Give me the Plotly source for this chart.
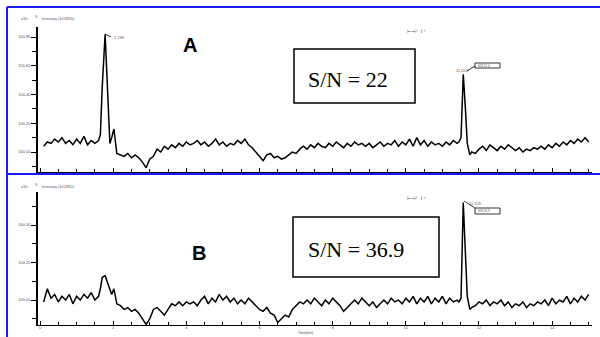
import plotly.graph_objects as go

# ---------------- data ----------------
time_min = (
    [0.1, 0.2, 0.3, 0.4, 0.5, 0.6, 0.7, 0.8, 0.9, 1.0, 1.1, 1.2, 1.3, 1.4, 1.5, 1.6]
    + [1.65, 1.7, 1.78, 1.85, 1.91, 1.96, 2.02, 2.1]
    + [2.2, 2.3, 2.4, 2.5, 2.6, 2.7, 2.8, 2.9, 3.0, 3.1,
       3.2, 3.3, 3.4, 3.5, 3.6, 3.7, 3.8, 3.9, 4.0, 4.1,
       4.2, 4.3, 4.4, 4.5, 4.6, 4.7, 4.8, 4.9, 5.0, 5.1,
       5.2, 5.3, 5.4, 5.5, 5.6, 5.7, 5.8, 5.9, 6.0, 6.1,
       6.2, 6.3, 6.4, 6.5, 6.6, 6.7, 6.8, 6.9, 7.0, 7.1,
       7.2, 7.3, 7.4, 7.5, 7.6, 7.7, 7.8, 7.9, 8.0, 8.1,
       8.2, 8.3, 8.4, 8.5, 8.6, 8.7, 8.8, 8.9, 9.0, 9.1,
       9.2, 9.3, 9.4, 9.5, 9.6, 9.7, 9.8, 9.9, 10.0, 10.1,
       10.2, 10.3, 10.4, 10.5, 10.6, 10.7, 10.8, 10.9, 11.0, 11.1,
       11.2, 11.3, 11.4]
    + [11.45, 11.51, 11.57, 11.63, 11.68, 11.75]
    + [11.8, 11.9, 12.0, 12.1, 12.2, 12.3, 12.4, 12.5, 12.6, 12.7,
       12.8, 12.9, 13.0, 13.1, 13.2, 13.3, 13.4, 13.5, 13.6, 13.7,
       13.8, 13.9, 14.0, 14.1, 14.2, 14.3, 14.4, 14.5, 14.6, 14.7,
       14.8, 14.9, 15.0]
)

intensity_a = (
    [100.04, 100.07, 100.06, 100.09, 100.07, 100.10, 100.06, 100.08, 100.05, 100.09,
     100.06, 100.11, 100.05, 100.08, 100.06, 100.08]
    + [100.12, 100.45, 100.82, 100.45, 100.06, 100.10, 100.16, 99.99]
    + [99.98, 99.97, 99.99, 99.96, 99.98, 99.96, 99.93, 99.89, 99.95, 99.97,
       100.02, 100.00, 100.04, 100.02, 100.05, 100.03, 100.06, 100.04, 100.07, 100.05,
       100.06, 100.08, 100.05, 100.07, 100.04, 100.06, 100.09, 100.05, 100.07, 100.04,
       100.06, 100.05, 100.08, 100.06, 100.09, 100.05, 100.03, 100.00, 99.97, 99.94,
       99.98, 99.99, 99.96, 99.97, 99.95, 99.96, 99.98, 100.00, 99.99, 100.02,
       100.04, 100.02, 100.05, 100.03, 100.06, 100.04, 100.03, 100.06, 100.04, 100.07,
       100.05, 100.03, 100.06, 100.04, 100.07, 100.05, 100.06, 100.04, 100.06, 100.03,
       100.05, 100.07, 100.04, 100.06, 100.05, 100.08, 100.04, 100.07, 100.05, 100.09,
       100.04, 100.10, 100.05, 100.08, 100.04, 100.07, 100.05, 100.06, 100.04, 100.07,
       100.05, 100.08, 100.06]
    + [100.07, 100.10, 100.54, 100.30, 100.06, 99.98]
    + [100.00, 99.99, 100.02, 100.04, 100.01, 100.05, 100.03, 100.01, 100.04, 100.02,
       100.05, 100.03, 100.01, 100.03, 100.00, 100.02, 100.01, 100.03, 100.02, 100.04,
       100.02, 100.05, 100.03, 100.06, 100.04, 100.07, 100.05, 100.08, 100.06, 100.09,
       100.07, 100.10, 100.07]
)

intensity_b = (
    [99.99, 100.06, 100.01, 100.03, 99.99, 100.02, 100.00, 100.03, 99.98, 100.02,
     100.00, 100.03, 100.01, 100.04, 100.00, 100.02]
    + [100.06, 100.12, 100.13, 100.09, 100.05, 100.03, 100.06, 99.98]
    + [99.97, 99.95, 99.96, 99.94, 99.95, 99.93, 99.90, 99.87, 99.90, 99.95,
       99.96, 99.94, 99.92, 99.95, 99.98, 99.97, 99.99, 99.97, 99.99, 99.98,
       99.99, 99.97, 100.00, 100.02, 99.98, 100.01, 99.99, 100.03, 100.00, 100.02,
       99.99, 100.01, 99.98, 100.00, 99.98, 100.01, 99.99, 99.97, 99.95, 99.94,
       99.96, 99.93, 99.92, 99.88, 99.90, 99.92, 99.91, 99.95, 99.97, 99.99,
       99.98, 100.00, 99.98, 100.01, 99.99, 99.97, 100.00, 99.98, 100.01, 99.99,
       99.97, 99.94, 99.96, 99.98, 100.00, 99.98, 100.01, 99.99, 99.97, 99.99,
       99.96, 99.98, 100.00, 99.98, 100.01, 99.99, 100.00, 99.98, 100.01, 99.99,
       100.02, 99.98, 100.01, 99.99, 100.02, 99.98, 100.01, 99.99, 100.02, 99.98,
       100.01, 99.99, 100.00]
    + [99.99, 100.01, 100.52, 100.25, 100.02, 99.95]
    + [99.96, 99.97, 99.99, 99.98, 100.00, 99.97, 99.99, 99.98, 100.00, 99.97,
       99.99, 99.96, 99.98, 99.97, 99.99, 99.96, 99.98, 99.97, 99.99, 99.98,
       100.00, 99.97, 100.01, 99.98, 100.00, 99.99, 100.02, 99.98, 100.01, 99.99,
       100.02, 100.00, 100.03]
)

assert len(time_min) == len(intensity_a) == len(intensity_b)

panel_labels = ["A", "B"]
sn_texts = ["S/N = 22", "S/N = 36.9"]
intensity_titles = ["Intensity (101820)", "Intensity (101832)"]
peak_a_labels = ["1.739", "11.553", "S/N 22.4"]
peak_b_labels = ["11.529", "S/N 36.9"]
x_ticks = [0, 2, 4, 6, 8, 10, 12, 14]

# ---------------- figure ----------------
W, H = 600, 337


def px(x):
    return x / W


def py(y):
    return 1 - y / H


fig = go.Figure()
fig.add_trace(go.Scatter(x=time_min, y=intensity_a, mode="lines",
                         line=dict(color="black", width=1.5),
                         xaxis="x", yaxis="y", showlegend=False))
fig.add_trace(go.Scatter(x=time_min, y=intensity_b, mode="lines",
                         line=dict(color="black", width=1.5),
                         xaxis="x2", yaxis="y2", showlegend=False))

tickfont = dict(family="Liberation Sans", size=4, color="#555555")
xdomain = [px(38), px(592)]
xrange_ = [-0.055, 15.09]

common_x = dict(domain=xdomain, range=xrange_, showline=True, linecolor="black",
                linewidth=1.2, ticks="inside", ticklen=4, tickcolor="black",
                tickvals=x_ticks, minor=dict(dtick=0.5, ticks="inside", ticklen=3,
                                             tickcolor="black"),
                showgrid=False, zeroline=False, tickfont=tickfont, automargin=False)
common_y = dict(showline=True, linecolor="black", linewidth=1.5, ticks="outside",
                ticklen=5, tickcolor="black", dtick=0.2, tickformat=".2f",
                minor=dict(dtick=0.1, ticks="outside", ticklen=4, tickcolor="black"),
                showgrid=False, zeroline=False, tickfont=tickfont, automargin=False)

fig.update_layout(
    width=W, height=H, margin=dict(l=0, r=0, t=0, b=0),
    paper_bgcolor="white", plot_bgcolor="white",
    xaxis=dict(**common_x, anchor="y", showticklabels=False),
    yaxis=dict(**common_y, domain=[py(172), py(27)], range=[99.861, 100.870],
               anchor="x", tick0=100.0),
    xaxis2=dict(**common_x, anchor="y2", showticklabels=True, ticklabelstandoff=-2),
    yaxis2=dict(**common_y, domain=[py(325), py(192)], range=[99.867, 100.576],
                anchor="x2", tick0=100.0),
)

blue = "#1a1aff"
shapes = [
    dict(type="line", xref="paper", yref="paper", x0=px(7), x1=1, y0=py(7), y1=py(7),
         line=dict(color=blue, width=2)),
    dict(type="line", xref="paper", yref="paper", x0=px(7), x1=1, y0=py(174), y1=py(174),
         line=dict(color=blue, width=2)),
    dict(type="line", xref="paper", yref="paper", x0=px(7), x1=px(7), y0=py(7), y1=0,
         line=dict(color=blue, width=2)),
    # S/N boxes
    dict(type="rect", xref="paper", yref="paper", x0=px(294), x1=px(415),
         y0=py(103), y1=py(49), line=dict(color="black", width=1.5)),
    dict(type="rect", xref="paper", yref="paper", x0=px(293), x1=px(439),
         y0=py(277), y1=py(217), line=dict(color="black", width=1.5)),
    # peak label boxes
    dict(type="rect", xref="paper", yref="paper", x0=px(475), x1=px(500),
         y0=py(68), y1=py(63), line=dict(color="black", width=0.8)),
    dict(type="rect", xref="paper", yref="paper", x0=px(475), x1=px(500),
         y0=py(214), y1=py(208), line=dict(color="black", width=0.8)),
    # leader lines
    dict(type="line", xref="paper", yref="paper", x0=px(105), x1=px(111),
         y0=py(34), y1=py(37), line=dict(color="black", width=0.8)),
    dict(type="line", xref="paper", yref="paper", x0=px(467), x1=px(475),
         y0=py(71), y1=py(66), line=dict(color="black", width=0.8)),
    dict(type="line", xref="paper", yref="paper", x0=px(464), x1=px(475),
         y0=py(201), y1=py(208), line=dict(color="black", width=0.8)),
]
fig.update_layout(shapes=shapes)

small = dict(family="Liberation Sans", size=4, color="#555555")


def ann(x, y, text, font, xanchor="center"):
    fig.add_annotation(x=px(x), y=py(y), xref="paper", yref="paper", text=text,
                       showarrow=False, font=font, xanchor=xanchor, yanchor="middle")


# header texts
for y0, title in zip([19, 186], intensity_titles):
    ann(19, y0, "x10", small, "left")
    ann(33, y0 - 2, "3", small, "left")
    ann(40, y0, title, small, "left")
    ann(405, y0 + 12, "⊢⊣ˢ  I ˢ", dict(family="DejaVu Sans", size=5, color="#444"), "left")

# panel letters
big = dict(family="Liberation Sans", size=20, color="black")
ann(190, 45, "<b>%s</b>" % panel_labels[0], big)
ann(199, 253, "<b>%s</b>" % panel_labels[1], big)

# S/N texts
serif = dict(family="Liberation Serif", size=22, color="black")
ann(348, 79, sn_texts[0], serif)
ann(356, 249, sn_texts[1], serif)

# peak labels
ann(112, 37, peak_a_labels[0], small, "left")
ann(454, 70, peak_a_labels[1], small, "left")
ann(476, 65.5, peak_a_labels[2], dict(family="Liberation Sans", size=3, color="#555"), "left")
ann(467, 203, peak_b_labels[0], small, "left")
ann(476, 211, peak_b_labels[1], dict(family="Liberation Sans", size=3, color="#555"), "left")

# x-axis title
ann(305, 333, "Time[min]", dict(family="Liberation Sans", size=3.5, color="#555"))

fig.write_html("out.html", config={"displayModeBar": False},
               post_script="document.body.style.margin='0';"
                           "document.body.style.overflow='hidden';")
